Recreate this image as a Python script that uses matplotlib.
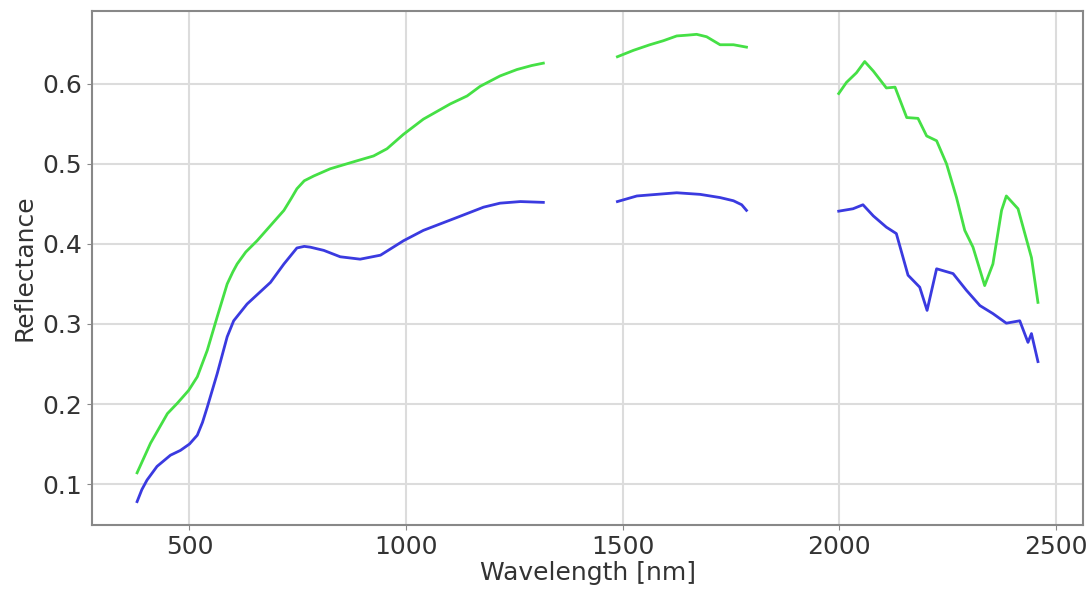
import numpy as np
import matplotlib.pyplot as plt

# spectra, three bands split by the water absorption gaps
green_wl_1 = [379, 410, 449, 472, 498, 518, 541, 564, 587, 600, 610, 630, 656, 687, 718, 735, 748, 765, 787,
              825, 887, 925, 956, 994, 1040, 1102, 1141, 1171, 1217, 1256, 1290, 1317]
green_r_1 = [0.114, 0.151, 0.188, 0.201, 0.217, 0.234, 0.267, 0.309, 0.350, 0.365, 0.375, 0.390, 0.404,
             0.423, 0.442, 0.457, 0.469, 0.479, 0.485, 0.494, 0.504, 0.510, 0.519, 0.537, 0.556, 0.575,
             0.585, 0.597, 0.610, 0.618, 0.623, 0.626]
green_wl_2 = [1488, 1525, 1563, 1594, 1625, 1650, 1671, 1694, 1725, 1756, 1786]
green_r_2 = [0.634, 0.642, 0.649, 0.654, 0.660, 0.661, 0.662, 0.659, 0.649, 0.649, 0.646]
green_wl_3 = [1999, 2017, 2040, 2059, 2079, 2109, 2129, 2156, 2182, 2202, 2225, 2248, 2271, 2290,
              2309, 2336, 2355, 2375, 2386, 2413, 2444, 2459]
green_r_3 = [0.588, 0.602, 0.614, 0.628, 0.616, 0.595, 0.596, 0.558, 0.557, 0.535, 0.529, 0.500, 0.458,
             0.417, 0.396, 0.348, 0.375, 0.442, 0.460, 0.444, 0.383, 0.327]

blue_wl_1 = [379, 390, 402, 425, 456, 479, 500, 518, 530, 541, 564, 587, 602, 633, 687, 718, 748, 765,
             779, 810, 848, 894, 941, 994, 1040, 1117, 1179, 1217, 1264, 1317]
blue_r_1 = [0.078, 0.093, 0.105, 0.122, 0.136, 0.142, 0.150, 0.161, 0.177, 0.196, 0.238, 0.284, 0.304,
            0.325, 0.352, 0.375, 0.395, 0.397, 0.396, 0.392, 0.384, 0.381, 0.386, 0.404, 0.417, 0.433,
            0.446, 0.451, 0.453, 0.452]
blue_wl_2 = [1488, 1533, 1579, 1625, 1679, 1725, 1756, 1775, 1786]
blue_r_2 = [0.453, 0.460, 0.462, 0.464, 0.462, 0.458, 0.454, 0.449, 0.442]
blue_wl_3 = [1999, 2032, 2055, 2079, 2109, 2132, 2159, 2186, 2203, 2225, 2263, 2294, 2325, 2355, 2386,
             2417, 2436, 2444, 2459]
blue_r_3 = [0.441, 0.444, 0.449, 0.435, 0.421, 0.413, 0.361, 0.346, 0.317, 0.369, 0.363, 0.342, 0.323,
            0.313, 0.301, 0.304, 0.277, 0.288, 0.253]

GREEN = '#45e045'
BLUE = '#3a3ae0'

fig = plt.figure(figsize=(10.88, 5.9), dpi=100)
ax = fig.add_axes([0.0846, 0.1102, 0.9108, 0.8712])

for wl, r in [(green_wl_1, green_r_1), (green_wl_2, green_r_2), (green_wl_3, green_r_3)]:
    ax.plot(wl, r, color=GREEN, lw=2)
for wl, r in [(blue_wl_1, blue_r_1), (blue_wl_2, blue_r_2), (blue_wl_3, blue_r_3)]:
    ax.plot(wl, r, color=BLUE, lw=2)

ax.set_xticks([500, 1000, 1500, 2000, 2500])
ax.set_yticks([0.1, 0.2, 0.3, 0.4, 0.5, 0.6])
ax.grid(True, color='#dcdcdc', lw=1.5)
ax.set_axisbelow(True)
ax.tick_params(labelsize=18, color='#888888', labelcolor='#333333')
for s in ax.spines.values():
    s.set_color('#888888')
    s.set_linewidth(1.5)

ax.set_xlabel('Wavelength [nm]', fontsize=18, color='#333333', labelpad=2)
ax.set_ylabel('Reflectance', fontsize=18, color='#333333')

fig.savefig('out.png', dpi=100)
